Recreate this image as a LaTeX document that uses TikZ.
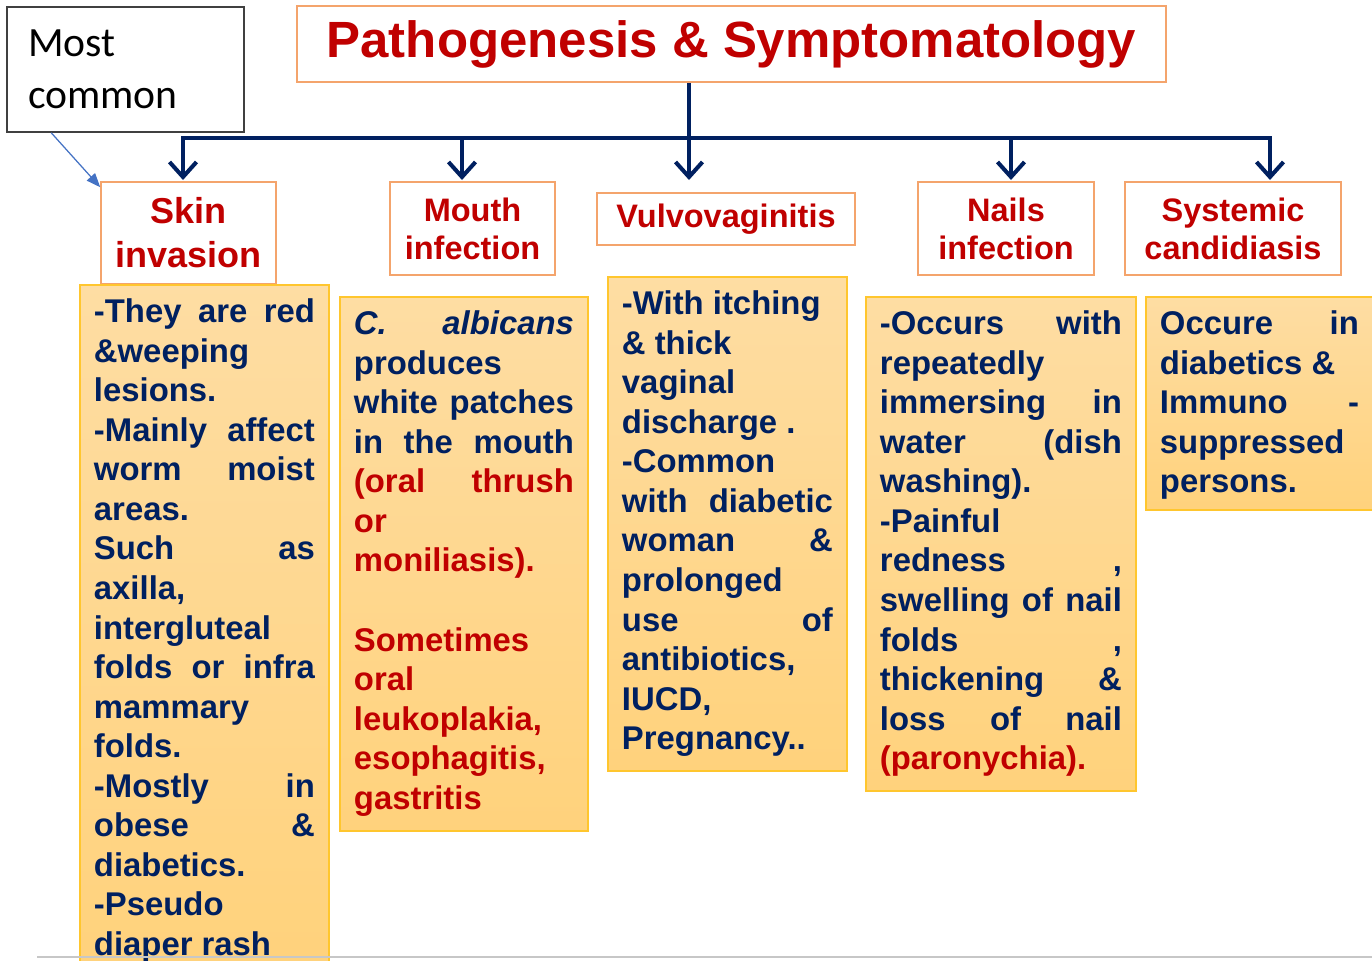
\documentclass[tikz,border=0pt]{standalone}
\usepackage{fontspec}
\setmainfont{Liberation Sans}
\newfontfamily\calib{Carlito}
\usetikzlibrary{arrows.meta}
\definecolor{navy}{HTML}{002060}
\definecolor{dred}{HTML}{C00000}
\definecolor{peach}{HTML}{F4A46C}
\definecolor{gold}{HTML}{FFC62E}
\definecolor{sandtop}{HTML}{FEDDA3}
\definecolor{sandbot}{HTML}{FFD27C}
\definecolor{pointer}{HTML}{4472C4}
\newcommand{\cardtext}[3]{\parbox[t][#1][t]{#2}{#3}}

\begin{document}
\begin{tikzpicture}[x=0.02cm, y=-0.02cm,
  head/.style={draw=peach, line width=0.9pt, fill=white, align=center, inner sep=0pt, text=dred, font=\fontsize{18.5}{21.6}\selectfont\bfseries},
  card/.style={draw=gold, line width=1.1pt, top color=sandtop, bottom color=sandbot, anchor=north west, inner sep=0.28cm, text=navy, font=\fontsize{18.7}{22.5}\selectfont\bfseries},
  trunk/.style={draw=navy, line width=2.3pt},
  >={Straight Barb[length=3mm,width=5.4mm]}
]
  \useasboundingbox (0,0) rectangle (1372,960);
  \fill[white] (0,0) rectangle (1372,960);

  % note and title
  \node[draw=black!75, line width=0.9pt, minimum height=2.5cm, text width=3.9cm, inner xsep=0.42cm, inner ysep=0pt, align=left, font=\calib\fontsize{23.7}{29.6}\selectfont] (note) at (125.5,69.5) {Most\\common};
  \node[draw=peach, line width=0.9pt, minimum width=17.38cm, minimum height=1.52cm, inner sep=0pt, text=dred, font=\fontsize{29}{34}\selectfont\bfseries] (title) at (731.5,44) {Pathogenesis \& Symptomatology};

  % headers
  \node[head, minimum width=3.5cm, minimum height=2.04cm, font=\fontsize{20.5}{25}\selectfont\bfseries] (skinh) at (188.5,233) {Skin\\invasion};
  \node[head, minimum width=3.3cm, minimum height=1.86cm] (mouthh) at (472.5,228.5) {Mouth\\infection};
  \node[head, minimum width=5.16cm, minimum height=1.04cm] (vulvoh) at (726,219) {Vulvovaginitis};
  \node[head, minimum width=3.52cm, minimum height=1.86cm] (nailh) at (1006,228.5) {Nails\\infection};
  \node[head, minimum width=4.32cm, minimum height=1.86cm] (systh) at (1233,228.5) {Systemic\\candidiasis};

  % tree of arrows
  \coordinate (c1) at (183,138);  \coordinate (t1) at (183,180);
  \coordinate (c2) at (462,138);  \coordinate (t2) at (462,180);
  \coordinate (t3) at (689,180);
  \coordinate (c4) at (1011,138); \coordinate (t4) at (1011,180);
  \coordinate (c5) at (1270,138); \coordinate (t5) at (1270,180);
  \draw[trunk,->] (title.south -| t3) -- (t3);
  \draw[trunk,<->] (t1) |- (c5) -- (t5);
  \draw[trunk,->] (c2) -- (t2);
  \draw[trunk,->] (c4) -- (t4);
  \draw[pointer, line width=0.7pt, -{Triangle[length=2.8mm,width=2.2mm]}] ([xshift=0.9cm]note.south west) -- ([yshift=-0.12cm]skinh.north west);

  % content cards
  \node[card] (skinb) at (79,284) {\cardtext{13cm}{4.42cm}{%
    -They\hfill are\hfill red\\
    \&weeping\\
    lesions.\\
    -Mainly\hfill affect\\
    worm\hfill moist\\
    areas.\\
    Such\hfill as\\
    axilla,\\
    intergluteal\\
    folds\hfill or\hfill infra\\
    mammary\\
    folds.\\
    -Mostly\hfill in\\
    obese\hfill \&\\
    diabetics.\\
    -Pseudo\\
    diaper rash}};
  \node[card] (mouthb) at (339,296) {\cardtext{10.12cm}{4.4cm}{%
    \textit{C.}\hfill\textit{albicans}\\
    produces\\
    white\hfill patches\\
    in\hfill the\hfill mouth\\
    {\color{dred}(oral\hfill thrush}\\
    {\color{dred}or}\\
    {\color{dred}moniliasis).}\\
    \mbox{}\\
    {\color{dred}Sometimes}\\
    {\color{dred}oral}\\
    {\color{dred}leukoplakia,}\\
    {\color{dred}esophagitis,}\\
    {\color{dred}gastritis}}};
  \node[card] (vulvob) at (607,276) {\cardtext{9.32cm}{4.22cm}{%
    -With itching\\
    \& thick\\
    vaginal\\
    discharge .\\
    -Common\\
    with\hfill diabetic\\
    woman\hfill \&\\
    prolonged\\
    use\hfill of\\
    antibiotics,\\
    IUCD,\\
    Pregnancy..}};
  \node[card] (nailb) at (865,296) {\cardtext{9.32cm}{4.84cm}{%
    -Occurs\hfill with\\
    repeatedly\\
    immersing\hfill in\\
    water\hfill (dish\\
    washing).\\
    -Painful\\
    redness\hfill ,\\
    \hspace{0.06cm}swelling\hfill of\hfill nail\\
    folds\hfill ,\\
    thickening\hfill \&\\
    loss\hfill of\hfill nail\\
    {\color{dred}(paronychia).}}};
  \node[card] (systb) at (1145,296) {\cardtext{3.7cm}{3.98cm}{%
    Occure\hfill in\\
    diabetics \&\\
    Immuno\hfill -\\
    suppressed\\
    persons.}};

  % slide footer rule
  \draw[line width=1.5pt, black!22] (37,957) -- (1372,957);
\end{tikzpicture}
\end{document}
